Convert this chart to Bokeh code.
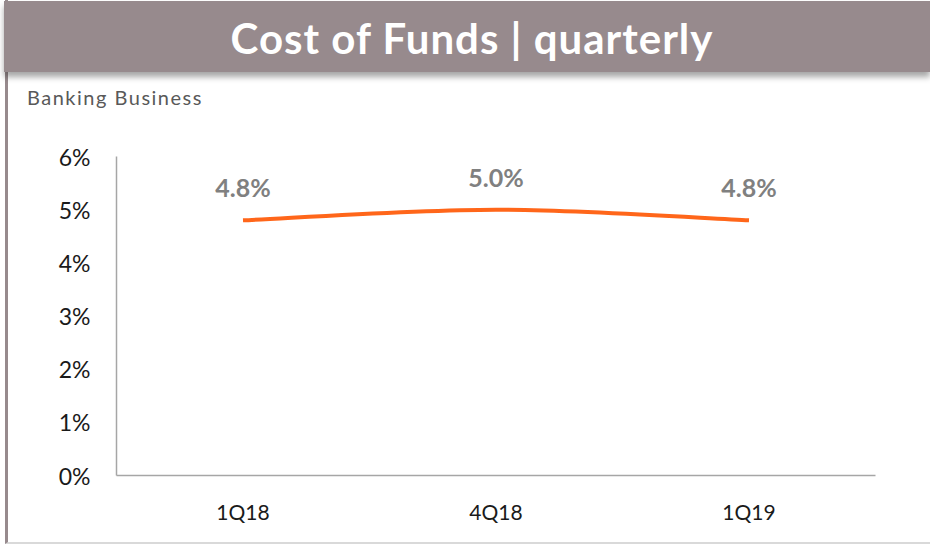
from bokeh.plotting import figure
from bokeh.models import ColumnDataSource, LabelSet, FixedTicker, Div, Range1d
from bokeh.layouts import column
from bokeh.embed import file_html
from bokeh.resources import INLINE
from bokeh.core.properties import value

# ---- data ----
quarters = ["1Q18", "4Q18", "1Q19"]
cost_of_funds = [4.8, 5.0, 4.8]
y_ticks = [0, 1, 2, 3, 4, 5, 6]
title_text = "Cost of Funds | quarterly"
subtitle_text = "Banking Business"

HEADER = "#978A8D"
ORANGE = "#FF661A"
FONT = "Lato"

xs = [i + 0.5 for i in range(len(quarters))]

# Catmull-Rom -> cubic bezier segments (smoothed line like the source)
pts = list(zip(xs, cost_of_funds))
seg = dict(x0=[], y0=[], x1=[], y1=[], cx0=[], cy0=[], cx1=[], cy1=[])
for i in range(len(pts) - 1):
    p0 = pts[i - 1] if i > 0 else pts[i]
    p1 = pts[i]
    p2 = pts[i + 1]
    p3 = pts[i + 2] if i + 2 < len(pts) else pts[i + 1]
    seg["x0"].append(p1[0]); seg["y0"].append(p1[1])
    seg["x1"].append(p2[0]); seg["y1"].append(p2[1])
    seg["cx0"].append(p1[0] + (p2[0] - p0[0]) / 6); seg["cy0"].append(p1[1] + (p2[1] - p0[1]) / 6)
    seg["cx1"].append(p2[0] - (p3[0] - p1[0]) / 6); seg["cy1"].append(p2[1] - (p3[1] - p1[1]) / 6)

header = Div(
    text=(
        f"<div style='box-sizing:border-box;width:926px;height:71px;margin-left:-9px;margin-top:-4px;"
        f"padding-left:10px;padding-top:3px;background:{HEADER};color:white;"
        f"font-family:{FONT};font-weight:bold;font-size:42px;letter-spacing:1px;display:flex;align-items:center;"
        "justify-content:center;box-shadow:0 5px 6px rgba(0,0,0,0.35);'>"
        f"{title_text}</div>"
        f"<div style='margin-top:11px;margin-left:14px;font-family:{FONT};font-size:20px;"
        f"letter-spacing:1.5px;color:#595959;'>"
        f"{subtitle_text}</div>"
    ),
    width=914, height=102,
)

p = figure(
    width=914, height=430,
    x_range=Range1d(0, len(quarters)), y_range=Range1d(0, 6),
    output_backend="svg", toolbar_location=None,
    min_border_left=108, min_border_right=47, min_border_top=44, min_border_bottom=67,
)
p.outline_line_color = None
p.grid.grid_line_color = None
p.background_fill_color = "white"
p.border_fill_color = "white"

p.bezier(x0="x0", y0="y0", x1="x1", y1="y1", cx0="cx0", cy0="cy0", cx1="cx1", cy1="cy1",
         source=ColumnDataSource(seg), line_color=ORANGE, line_width=4)

src = ColumnDataSource(dict(x=xs, y=cost_of_funds, lab=[f"{v:.1f}%" for v in cost_of_funds]))
p.add_layout(LabelSet(x="x", y="y", text="lab", source=src, y_offset=18,
                      text_align="center", text_baseline="bottom",
                      text_font=value(FONT), text_font_style="bold",
                      text_font_size="25px", text_color="#808080"))

p.xaxis.ticker = FixedTicker(ticks=xs)
p.xaxis.major_label_overrides = {x: q for x, q in zip(xs, quarters)}
p.yaxis.ticker = FixedTicker(ticks=y_ticks)
p.yaxis.major_label_overrides = {t: f"{t}%" for t in y_ticks}

for ax in (p.xaxis, p.yaxis):
    ax.axis_line_color = "#A6A6A6"
    ax.axis_line_width = 1.5
    ax.major_tick_line_color = None
    ax.minor_tick_line_color = None
    ax.major_label_text_font = FONT
    ax.major_label_text_color = "#1a1a1a"
p.yaxis.major_label_text_font_size = "23px"
p.yaxis.major_label_standoff = 20
p.xaxis.major_label_text_font_size = "21px"
p.xaxis.major_label_standoff = 17

layout = column(header, p, styles={"border-left": "3px solid " + HEADER,
                                   "border-bottom": "2px solid #d9d9d9",
                                   "margin-left": "5px"})

open("out.html", "w").write(file_html(layout, INLINE))
